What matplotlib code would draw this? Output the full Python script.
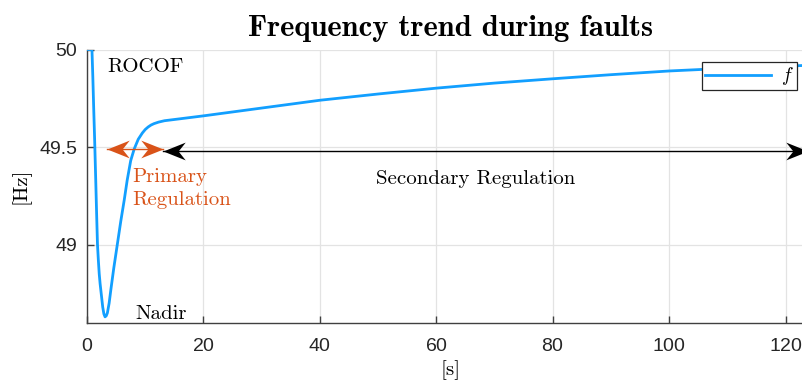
import matplotlib
matplotlib.use('Agg')
import matplotlib.pyplot as plt
import numpy as np
from matplotlib.path import Path

# frequency response after the fault (time in s, frequency in Hz)
t = [0.0, 0.85, 1.0, 1.15, 1.3, 1.5, 1.65, 1.8, 1.95, 2.1, 2.25, 2.4, 2.55,
     2.7, 2.9, 3.1, 3.3, 3.5, 3.8, 4.1, 4.6, 5.2, 5.8, 6.4, 6.9, 7.5, 8.1,
     8.8, 9.5, 10.0, 10.5, 11.0, 11.5, 12.3, 13.3, 16.0, 20.0, 25.0, 30.0,
     40.0, 50.0, 60.0, 70.0, 80.0, 90.0, 100.0, 110.0, 120.0, 125.0]
f = [50.0, 50.0, 49.86, 49.7, 49.55, 49.33, 49.16, 49.0, 48.92, 48.85,
     48.8, 48.76, 48.72, 48.68, 48.645, 48.63, 48.635, 48.65, 48.7, 48.77,
     48.88, 49.0, 49.12, 49.23, 49.33, 49.43, 49.49, 49.54, 49.572, 49.59,
     49.603, 49.613, 49.62, 49.628, 49.635, 49.645, 49.66, 49.68, 49.70,
     49.74, 49.772, 49.802, 49.828, 49.85, 49.871, 49.89, 49.904, 49.915,
     49.92]

x_ticks = [0, 20, 40, 60, 80, 100, 120]
y_ticks = [49, 49.5, 50]

primary_span = (3.45, 13.1, 49.488)
secondary_span = (13.1, 123.8, 49.482)

blue = '#129FFF'
orange = '#D95319'
axcol = '#404040'

plt.rcParams['mathtext.fontset'] = 'cm'
plt.rcParams['axes.formatter.use_mathtext'] = True

fig = plt.figure(figsize=(8.03, 3.8), dpi=100)
ax = fig.add_axes([87 / 803, 1 - 322.7 / 380, 728 / 803, 273.2 / 380])

ax.plot(t, f, color=blue, lw=2.0, label='$f$', zorder=3, solid_joinstyle='round')

ax.set_xlim(0, 125)
ax.set_ylim(48.6, 50)
ax.set_xticks(x_ticks)
ax.set_yticks(y_ticks)
ax.set_yticklabels(['49', '49.5', '50'])
ax.grid(True, color='#e3e3e3', lw=0.9)
ax.set_axisbelow(True)
for s in ['top', 'right']:
    ax.spines[s].set_visible(False)
for s in ['left', 'bottom']:
    ax.spines[s].set_color(axcol)
    ax.spines[s].set_linewidth(1.0)
ax.tick_params(direction='in', length=5, width=1.0, color=axcol,
               labelcolor='#262626', labelsize=14)
ax.tick_params(axis='x', pad=11)
ax.tick_params(axis='y', pad=7)
for lab in ax.get_xticklabels() + ax.get_yticklabels():
    lab.set_fontfamily('Liberation Sans')

ax.set_title('Frequency trend during faults', fontfamily='cmb10',
             fontsize=22, pad=10)
ax.set_xlabel('[s]', fontfamily='cmr10', fontsize=15)
ax.set_ylabel('[Hz]', fontfamily='cmr10', fontsize=15)
ax.xaxis.set_label_coords(0.5, -0.138)
ax.yaxis.set_label_coords(-0.077, 0.5)


# concave arrowhead with the tip at the origin, pointing right
def head(direction):
    s = direction
    verts = [(0, 0), (-1 * s, 0.4), (-0.68 * s, 0), (-1 * s, -0.4), (0, 0)]
    codes = [Path.MOVETO, Path.LINETO, Path.LINETO, Path.LINETO, Path.CLOSEPOLY]
    return Path(verts, codes)


def double_arrow(x0, x1, y, color):
    ax.plot([x0, x1], [y, y], color=color, lw=1.0, zorder=4, clip_on=False)
    ax.plot([x0], [y], marker=head(-1), ms=32, color=color, mew=0,
            zorder=5, clip_on=False)
    ax.plot([x1], [y], marker=head(1), ms=32, color=color, mew=0,
            zorder=5, clip_on=False)


double_arrow(secondary_span[0], secondary_span[1], secondary_span[2], 'black')
double_arrow(primary_span[0], primary_span[1], primary_span[2], orange)

txt = dict(fontfamily='cmr10', fontsize=15)
ax.text(3.43, 49.885, 'ROCOF', va='baseline', ha='left', **txt)
ax.text(7.7, 49.205, 'Primary\nRegulation', va='baseline', ha='left',
        color=orange, linespacing=1.3, **txt)
ax.text(66.7, 49.312, 'Secondary Regulation', va='baseline', ha='center', **txt)
ax.text(8.24, 48.62, 'Nadir', va='baseline', ha='left', **txt)

leg = ax.legend(loc='upper right', bbox_to_anchor=(0.975, 0.9525),
                fontsize=14, handlelength=3.4, handletextpad=0.5,
                borderpad=0.15, borderaxespad=0, fancybox=False,
                framealpha=1, edgecolor='#262626')
leg.get_frame().set_linewidth(0.9)

fig.savefig('out.png', dpi=100)
